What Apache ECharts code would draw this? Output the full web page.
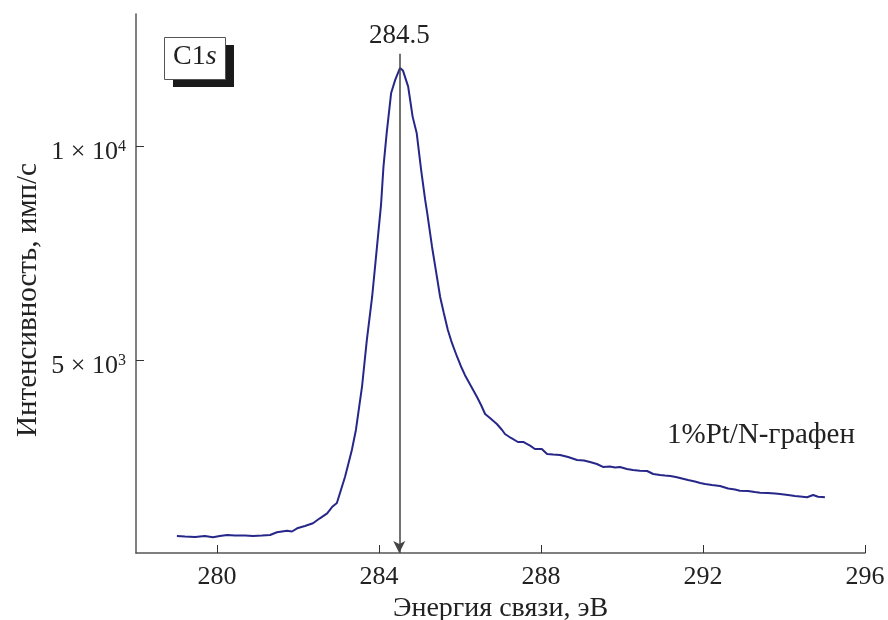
<!DOCTYPE html>
<html>
<head>
<meta charset="utf-8">
<script src="https://cdn.jsdelivr.net/npm/echarts@6/dist/echarts.min.js"></script>
<style>
  html, body { margin: 0; padding: 0; background: #fff; }
  #chart { width: 888px; height: 620px; }
</style>
</head>
<body>
<div id="chart"></div>
<script>
// энергия связи, эВ
const energy = [
  279.01, 279.21, 279.46, 279.70, 279.90, 280.07, 280.25, 280.44, 280.69, 280.89,
  281.11, 281.31, 281.48, 281.73, 281.85, 281.98, 282.17, 282.37, 282.54, 282.72,
  282.84, 282.96, 283.06, 283.16, 283.23, 283.33, 283.43, 283.58, 283.70, 283.83,
  283.95, 284.05, 284.11, 284.19, 284.30, 284.40, 284.52, 284.59, 284.72, 284.83,
  284.93, 285.04, 285.14, 285.19, 285.31, 285.41, 285.51, 285.60, 285.70, 285.80,
  285.93, 286.02, 286.12, 286.27, 286.42, 286.52, 286.62, 286.74, 286.91, 287.04,
  287.11, 287.26, 287.43, 287.56, 287.73, 287.85, 288.02, 288.15, 288.30, 288.47,
  288.67, 288.89, 289.06, 289.21, 289.38, 289.53, 289.70, 289.83, 289.95, 290.12,
  290.27, 290.44, 290.62, 290.77, 290.94, 291.06, 291.19, 291.33, 291.43, 291.63,
  291.80, 291.93, 292.05, 292.22, 292.42, 292.62, 292.79, 292.91, 293.11, 293.28,
  293.41, 293.60, 293.78, 293.90, 294.10, 294.27, 294.40, 294.57, 294.72, 294.84,
  294.94, 295.01
]
// интенсивность, имп/с
const intensity = [
  897, 886, 874, 897, 867, 897, 921, 909, 909, 897,
  909, 921, 984, 1021, 1003, 1077, 1131, 1194, 1311, 1428,
  1575, 1669, 1973, 2277, 2534, 2908, 3376, 4381, 5480, 6485,
  7654, 8636, 9525, 10320, 11255, 11559, 11839, 11781, 11402, 10701,
  10320, 9455, 8753, 8449, 7654, 7070, 6485, 6111, 5714, 5410,
  5082, 4872, 4662, 4404, 4147, 3960, 3750, 3656, 3516, 3376,
  3282, 3189, 3095, 3095, 3009, 2932, 2932, 2815, 2803, 2791,
  2744, 2674, 2663, 2628, 2581, 2511, 2522, 2499, 2511, 2464,
  2441, 2424, 2417, 2347, 2324, 2312, 2300, 2277, 2254, 2207,
  2172, 2137, 2113, 2090, 2067, 2008, 1985, 1957, 1950, 1926,
  1910, 1903, 1891, 1879, 1856, 1833, 1821, 1802, 1856, 1816,
  1809, 1802
]
const xTicks = [280, 284, 288, 292, 296]
const yTicks = [5000, 10000]
const peakPos = 284.5

const font = 'Liberation Serif'
const chart = echarts.init(document.getElementById('chart'))

chart.setOption({
  animation: false,
  grid: { left: 136, right: 23, top: 14, bottom: 67, outerBoundsMode: 'none' },
  xAxis: {
    type: 'value',
    min: 278,
    max: 296,
    name: 'Энергия связи, эВ',
    nameLocation: 'middle',
    nameGap: 40,
    nameTextStyle: { fontFamily: font, fontSize: 28, color: '#222' },
    axisLine: { lineStyle: { color: '#555', width: 1.5 } },
    axisTick: { inside: true, length: 8, customValues: xTicks, lineStyle: { color: '#333' } },
    axisLabel: { customValues: xTicks, margin: 11, fontFamily: font, fontSize: 26, color: '#222' },
    splitLine: { show: false }
  },
  yAxis: {
    type: 'value',
    min: 500,
    max: 13100,
    axisLine: { show: true, lineStyle: { color: '#555', width: 1.5 } },
    axisTick: { show: true, inside: true, length: 8, customValues: yTicks, lineStyle: { color: '#333' } },
    axisLabel: {
      customValues: yTicks,
      margin: 10,
      padding: [12, 0, 0, 0],
      fontFamily: font,
      fontSize: 26,
      color: '#222',
      formatter: function (v) {
        return v === 10000 ? '1 × 10{sup|4}' : '5 × 10{sup|3}'
      },
      rich: {
        sup: { fontFamily: font, fontSize: 16, color: '#222', padding: [0, 0, 12, 0] }
      }
    },
    splitLine: { show: false }
  },
  series: [{
    type: 'line',
    showSymbol: false,
    data: energy.map((e, i) => [e, intensity[i]]),
    lineStyle: { color: '#27278a', width: 2 },
    markLine: {
      silent: true,
      symbol: ['none', 'arrow'],
      symbolSize: [9, 12],
      lineStyle: { color: '#444', width: 1.5, type: 'solid' },
      label: {
        show: true,
        position: 'start',
        distance: 4,
        formatter: String(peakPos),
        fontFamily: font,
        fontSize: 27,
        color: '#222'
      },
      data: [[{ coord: [peakPos, 12170] }, { coord: [peakPos, 500] }]]
    }
  }],
  graphic: [
    {
      type: 'text', x: 28, y: 300, rotation: Math.PI / 2,
      style: {
        text: 'Интенсивность, имп/с', font: '29px "Liberation Serif"', fill: '#222',
        align: 'center', verticalAlign: 'middle'
      }
    },
    { type: 'rect', left: 173, top: 45, shape: { width: 61, height: 42 }, style: { fill: '#1a1a1a' } },
    { type: 'rect', left: 164, top: 37, shape: { width: 61, height: 42 }, style: { fill: '#fff', stroke: '#555', lineWidth: 1 } },
    {
      type: 'text', left: 173, top: 43,
      style: {
        text: 'C1{it|s}',
        font: '28px "Liberation Serif"',
        fill: '#222',
        rich: { it: { fontFamily: font, fontStyle: 'italic', fontSize: 28, fill: '#222' } }
      }
    },
    {
      type: 'text', left: 667, top: 421,
      style: { text: '1%Pt/N-графен', font: '29px "Liberation Serif"', fill: '#222' }
    }
  ]
})
</script>
</body>
</html>
